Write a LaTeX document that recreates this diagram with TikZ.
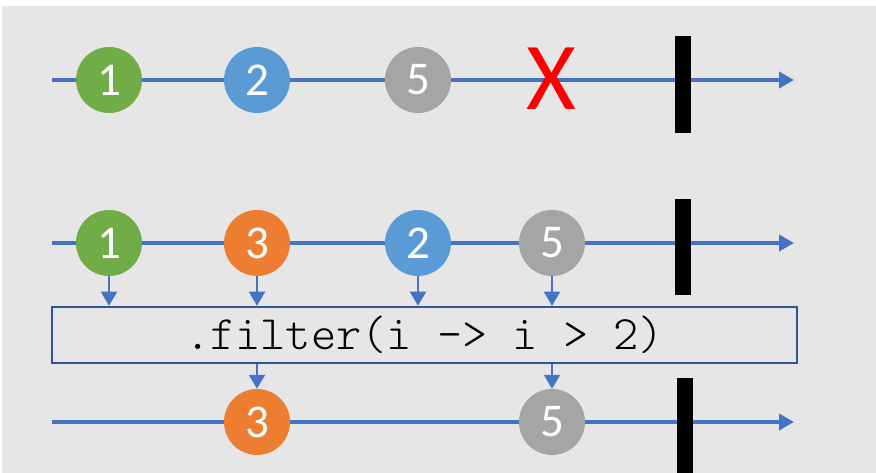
\documentclass[tikz,border=0pt]{standalone}
\usepackage{fontspec}
\newfontfamily\calib{Carlito}
\newfontfamily\monof{Latin Modern Mono Light}
\usetikzlibrary{arrows.meta}
\definecolor{bg}{HTML}{E7E6E6}
\definecolor{lineblue}{HTML}{4472C4}
\definecolor{boxblue}{HTML}{2F5597}
\definecolor{cgreen}{HTML}{70AD47}
\definecolor{cblue}{HTML}{5B9BD5}
\definecolor{cgray}{HTML}{A5A5A5}
\definecolor{corange}{HTML}{ED7D31}
\tikzset{
  timeline/.style={draw=lineblue, line width=4pt, -{Triangle[length=15pt,width=16pt]}},
  flow/.style={draw=lineblue, line width=2pt, -{Triangle[length=14pt,width=16pt]}},
  marble/.style={circle, minimum size=66pt, inner sep=0pt, text=white, font=\calib\fontsize{47}{47}\selectfont},
  endbar/.style={fill=black, draw=none},
}
\begin{document}
\begin{tikzpicture}[x=1pt,y=-1pt]
\useasboundingbox (0,0) rectangle (876,473);
\fill[white] (0,0) rectangle (876,473);
\fill[bg] (2,6) rectangle (876,473);
% row 1
\coordinate (s1) at (52,80);
\coordinate (e1) at (794,80);
\draw[timeline] (s1) -- (e1);
\node[marble, fill=cgreen] (a1) at (109,80) {1};
\node[marble, fill=cblue] (a2) at (257,80) {2};
\node[marble, fill=cgray] (a5) at (418,80) {5};
\node[text=red, inner sep=0pt, font=\calib\fontsize{96}{96}\selectfont] (ax) at (551,79) {X};
\fill[endbar] (675,36) rectangle (691,133);
% row 2
\coordinate (s2) at (52,243);
\coordinate (e2) at (794,243);
\draw[timeline] (s2) -- (e2);
\node[marble, fill=cgreen] (b1) at (109,243) {1};
\node[marble, fill=corange] (b3) at (257,243) {3};
\node[marble, fill=cblue] (b2) at (418,243) {2};
\node[marble, fill=cgray] (b5) at (552,243) {5};
\fill[endbar] (675,199) rectangle (691,295);
% filter box
\node[draw=boxblue, line width=2.5pt, minimum width=745pt, minimum height=56pt, inner sep=0pt,
      font=\monof\fontsize{48}{48}\selectfont] (box) at (424.5,335) {.filter(i -> i > 2)};
\foreach \m in {b1,b3,b2,b5} {
  \draw[flow] (\m.south) -- (\m.south |- box.north);
}
% row 3
\coordinate (s3) at (52,422);
\coordinate (e3) at (794,422);
\draw[timeline] (s3) -- (e3);
\node[marble, fill=corange] (c3) at (257,422) {3};
\node[marble, fill=cgray] (c5) at (552,422) {5};
\fill[endbar] (677,378) rectangle (693,473);
\draw[flow] (box.south -| c3.north) -- (c3.north);
\draw[flow] (box.south -| c5.north) -- (c5.north);
\end{tikzpicture}
\end{document}
